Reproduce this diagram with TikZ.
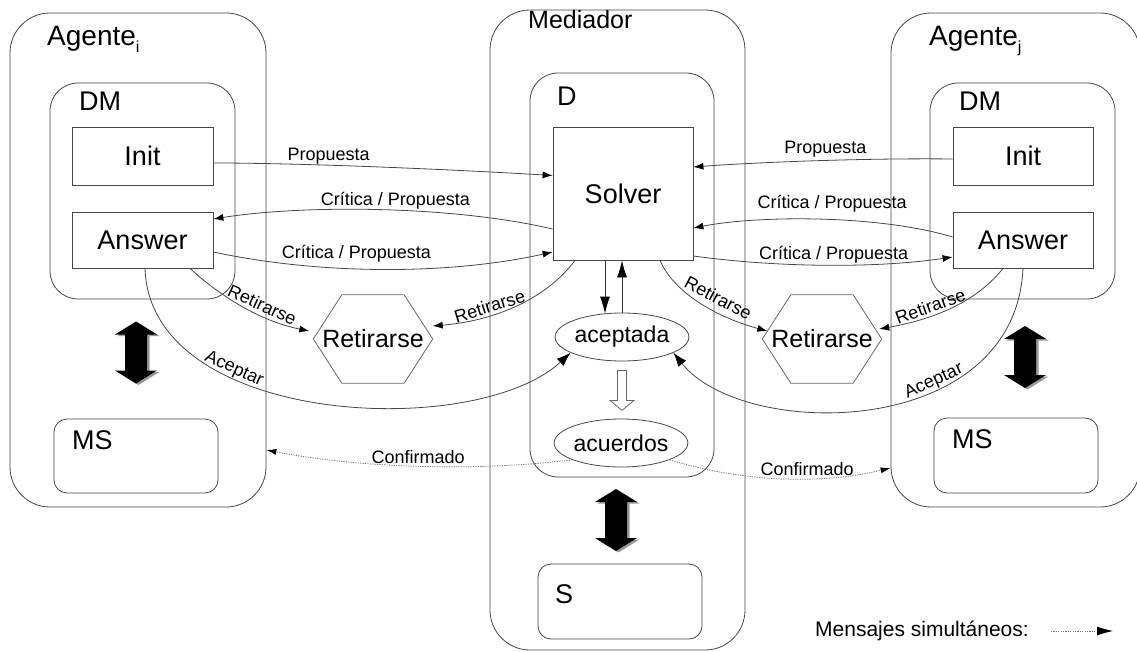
\documentclass[tikz,border=0pt]{standalone}
\usepackage{fontspec}
\setmainfont{Liberation Sans}
\usetikzlibrary{arrows.meta,calc,shapes.geometric}
\newcommand\subidx[1]{\raisebox{-7pt}{\fontsize{16}{16}\selectfont #1}}
\begin{document}
\begin{tikzpicture}[x=1pt,y=-1pt,
  ctr/.style={draw=black!72,line width=0.8pt,rectangle,inner sep=0pt,rounded corners=#1},
  ctr/.default=0pt,
  big/.style={font=\fontsize{27}{31}\selectfont},
  boxtitle/.style={big,anchor=base west,inner sep=0pt},
  oval/.style={draw=black!72,line width=0.8pt,ellipse,inner sep=0pt,minimum width=120pt,minimum height=48pt,font=\fontsize{23}{27}\selectfont},
  hexlbl/.style={minimum width=119pt,minimum height=88pt,inner sep=0pt,font=\fontsize{25}{29}\selectfont},
  hexline/.style={draw=black!60,line width=0.8pt},
  msg/.style={font=\fontsize{18}{21}\selectfont,inner sep=0.5pt},
  conn/.style={draw=black!72,line width=0.8pt,-{Latex[length=10pt,width=7pt,color=black]}},
  connbig/.style={draw=black!80,line width=0.8pt,-{Latex[length=17pt,width=10pt,color=black]}},
  connmid/.style={draw=black!72,line width=0.8pt,-{Latex[length=14pt,width=10pt,color=black]}},
  dotconn/.style={draw=black!55,line width=0.8pt,dash pattern=on 1.2pt off 1.2pt,-{Latex[length=10pt,width=6pt,color=black]}},
  dblarrow/.pic={
    \foreach \dx/\dy/\c in {2.5/1.5/black!40, 0/0/black}{
      \fill[\c,shift={(\dx,\dy)}] (0,-31) -- (21,-18) -- (11,-18) -- (11,18) -- (21,18) -- (0,31)
        -- (-21,18) -- (-11,18) -- (-11,-18) -- (-21,-18) -- cycle;
    }
  }
]
\useasboundingbox (0,0) rectangle (1137,652);

% ---------- Agente i ----------
\node[ctr=40pt,minimum width=256pt,minimum height=494pt] (agI) at (138,260) {};
\node[ctr=28pt,minimum width=185pt,minimum height=216pt] (dmI) at (142.5,191) {};
\node[ctr,minimum width=141pt,minimum height=58pt,big] (initI) at (142.5,156) {Init};
\node[ctr,minimum width=141pt,minimum height=56pt,big] (ansI) at (142.5,240) {Answer};
\node[ctr=13pt,minimum width=164pt,minimum height=74pt] (msI) at (136,456) {};
\node[boxtitle,font=\fontsize{28}{32}\selectfont] (agIlbl) at (47,46) {Agente\subidx{i}};
\node[boxtitle] (dmIlbl) at (79,111) {DM};
\node[boxtitle] (msIlbl) at (72,449) {MS};

% ---------- Mediador ----------
\node[ctr=40pt,minimum width=255pt,minimum height=640pt] (med) at (617.5,330) {};
\node[ctr=28pt,minimum width=184pt,minimum height=404pt] (dD) at (622,275) {};
\node[ctr,minimum width=140pt,minimum height=133pt,big] (solver) at (623,193.5) {Solver};
\node[oval] (acep) at (622,337) {aceptada};
\node[oval,minimum width=119pt] (acue) at (621,443) {acuerdos};
\node[ctr=13pt,minimum width=164pt,minimum height=75pt] (sBox) at (620,601.5) {};
\node[boxtitle,font=\fontsize{25}{29}\selectfont] (medlbl) at (528,29) {Mediador};
\node[boxtitle] (dlbl) at (557,106) {D};
\node[boxtitle] (slbl) at (555,603) {S};

% ---------- Agente j ----------
\node[ctr=40pt,minimum width=249pt,minimum height=494pt] (agJ) at (1015.5,260) {};
\node[ctr=28pt,minimum width=185pt,minimum height=216pt] (dmJ) at (1022.5,191) {};
\node[ctr,minimum width=140pt,minimum height=58pt,big] (initJ) at (1023,156) {Init};
\node[ctr,minimum width=140pt,minimum height=56pt,big] (ansJ) at (1023,240) {Answer};
\node[ctr=13pt,minimum width=164pt,minimum height=75pt] (msJ) at (1016,455.5) {};
\node[boxtitle,font=\fontsize{28}{32}\selectfont] (agJlbl) at (929,46) {Agente\subidx{j}};
\node[boxtitle] (dmJlbl) at (959,111) {DM};
\node[boxtitle] (msJlbl) at (952,448) {MS};

% ---------- withdrawal hexagons ----------
\node[hexlbl] (hexL) at (373,339) {Retirarse};
\node[hexlbl] (hexR) at (822,339) {Retirarse};
\foreach \h in {hexL,hexR}
  \draw[hexline] (\h.west) -- ($(\h.north west)+(28.5,0)$) -- ($(\h.north east)+(-28.5,0)$)
    -- (\h.east) -- ($(\h.south east)+(-28.5,0)$) -- ($(\h.south west)+(28.5,0)$) -- cycle;

% ---------- proposals and critiques ----------
\draw[conn] ($(initI.east)+(0,7)$) .. controls +(90,0) and +(-100,-6) ..
  node[msg,above,pos=0.36] {Propuesta} ($(solver.west)+(0,-18)$);
\draw[conn] ($(solver.west)+(0,35.5)$) .. controls +(-103,-24) and +(87,-14) ..
  node[msg,above,pos=0.45] {Crítica / Propuesta} ($(ansI.east)+(0,-21)$);
\draw[conn] ($(ansI.east)+(0,12)$) .. controls +(107,23) and +(-103,23) ..
  node[msg,above,pos=0.42,yshift=6pt] {Crítica / Propuesta} ($(solver.west)+(0,58.5)$);

\draw[conn] ($(initJ.west)+(0,3)$) .. controls +(-83,-1) and +(67,-5) ..
  node[msg,above,pos=0.47,yshift=2pt] {Propuesta} ($(solver.east)+(0,-26.5)$);
\draw[conn] ($(ansJ.west)+(0,-3)$) .. controls +(-73,-22) and +(67,-13) ..
  node[msg,above,pos=0.46,yshift=7pt] {Crítica / Propuesta} ($(solver.east)+(0,34.5)$);
\draw[conn] ($(solver.east)+(0,62.5)$) .. controls +(87,12) and +(-73,11) ..
  node[msg,above,pos=0.52,yshift=1pt] {Crítica / Propuesta} ($(ansJ.west)+(0,17)$);

% ---------- withdrawals ----------
\draw[conn] ($(ansI.south)+(47.5,0)$) .. controls +(35,32) and +(-45,-9) ..
  node[msg,above,sloped,pos=0.6,inner sep=3.5pt] {Retirarse} ($(hexL.west)+(-4,-8)$);
\draw[conn] ($(solver.south)+(-48,0)$) .. controls +(-30,40) and +(60,-5) ..
  node[msg,above,sloped,pos=0.65,inner sep=2pt] {Retirarse} ($(hexL.east)+(0,-13)$);
\draw[conn] ($(solver.south)+(37,0)$) .. controls +(15,35) and +(-45,-12) ..
  node[msg,above,sloped,pos=0.58,inner sep=6.5pt] {Retirarse} ($(hexR.west)+(5,-8)$);
\draw[conn] ($(ansJ.south)+(-20,0)$) .. controls +(-30,38) and +(45,-8) ..
  node[msg,above,sloped,pos=0.6,inner sep=2.5pt] {Retirarse} ($(hexR.east)+(-2.5,-10)$);

% ---------- acceptances ----------
\draw[connmid] ($(ansI.south)+(2.5,0)$) .. controls +(5,158) and +(-95,88) ..
  node[msg,above,sloped,pos=0.32] {Aceptar} (acep.197);
\draw[connmid] (ansJ.south) .. controls +(-8,172) and +(70,88) ..
  node[msg,above,sloped,pos=0.35] {Aceptar} (acep.343);

% ---------- solver and accepted set ----------
\draw[connbig] ($(solver.south)+(-18,0)$) -- ($(acep.north)+(-17,1)$);
\draw[connbig] (acep.north) -- (acep.north |- solver.south);
\draw[draw=black!60,line width=0.8pt] ($(acep.south)+(-4.5,9)$) -- ++(9,0) -- ++(0,30) -- ++(7.5,0)
  -- ($(acep.south)+(0,49)$) -- ($(acep.south)+(-12,39)$) -- ++(7.5,0) -- cycle;

% ---------- confirmations ----------
\draw[dotconn] (acue.199) .. controls +(-96,12) and +(93,18) ..
  node[msg,above,pos=0.5,inner sep=2pt] {Confirmado} ($(agI.east)+(0,190)$);
\draw[dotconn] (acue.341) .. controls +(71,22) and +(-71,17) ..
  node[msg,above,pos=0.62,inner sep=3pt] {Confirmado} ($(agJ.west)+(0,208)$);

% ---------- solver/memory links ----------
\pic at (136,352.5) {dblarrow};
\pic at (616,520) {dblarrow};
\pic at (1025,357) {dblarrow};

% ---------- legend ----------
\node[anchor=west,inner sep=0pt,font=\fontsize{21}{25}\selectfont] (legend) at (815,631) {Mensajes simultáneos:};
\coordinate (legTip) at (1113,631);
\draw[dotconn,-{Latex[length=16pt,width=9pt,color=black]}] ($(legend.east)+(22,0)$) -- (legTip);
\end{tikzpicture}
\end{document}
